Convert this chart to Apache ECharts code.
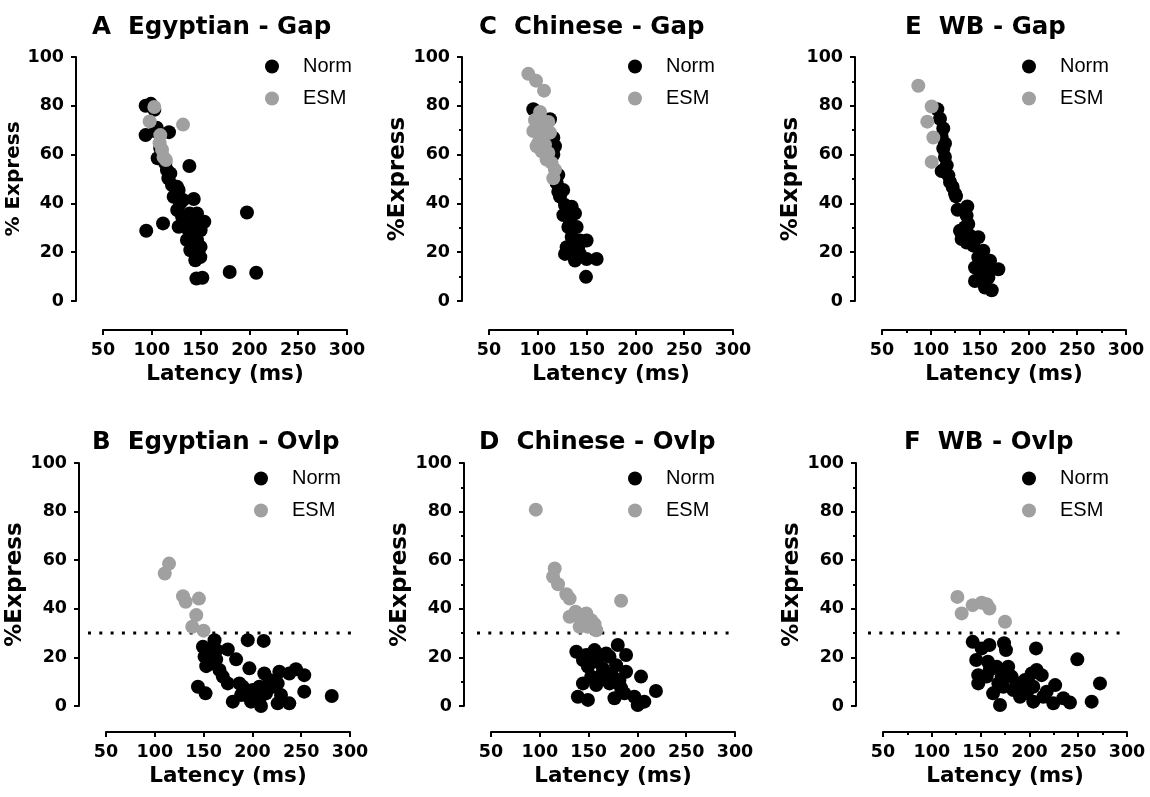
<!DOCTYPE html>
<html>
<head>
<meta charset="utf-8">
<script src="https://cdn.jsdelivr.net/npm/echarts@6/dist/echarts.min.js"></script>
<style>
  html, body { margin: 0; background: #fff; }
  #chart { width: 1150px; height: 797px; }
</style>
</head>
<body>
<div id="chart"></div>
<script>
// latency (ms), % express saccades
const egyGapNorm = [[93.7,80],[99,80.8],[102.6,78.4],[93.7,68],[105,71],[117.6,69.2],[103.6,69.5],[108.7,62.6],[106,58.5],[113.8,56.4],[115.5,53.7],[119,52.3],[117,50.3],[120.7,47.5],[125.8,46.8],[127.5,45.5],[122.4,42.7],[129,40],[132,41.4],[126,37.3],[138.5,55.3],[143,41.8],[131,34.5],[134.5,33.2],[127.5,30.4],[138.8,35.9],[146.3,35.9],[153.8,32.5],[146.3,31.8],[137.8,29],[143,27.7],[150,29],[136,25],[146.3,24.9],[141,22.9],[150,22.2],[139.5,20.8],[146.3,19.5],[149.7,18],[144.6,16.7],[145.7,9.2],[151.8,9.5],[179.8,11.9],[207,11.6],[197.5,36.3],[94.3,28.8],[111.5,31.8]];
const egyGapEsm = [[102.6,79.5],[97.8,73.6],[132,72.3],[108.7,68],[108,64.7],[110.5,62],[112,59],[114.5,57.8]];

const chnGapNorm = [[95.4,78.6],[112.5,74.5],[115.9,66.9],[117.6,63.4],[115.9,60],[121,51.7],[119.3,48.3],[121,44.8],[126,45.5],[122.7,42.8],[127.9,39.3],[134.7,38.6],[131.3,37.2],[138.1,35.9],[126.2,35.2],[133,33.1],[139.8,30.3],[131.3,30.3],[134.7,26.2],[143.2,24.8],[150,24.8],[134.7,22.8],[141.5,22.1],[129.6,22],[136.4,20],[143.2,19.3],[127.9,19.3],[138.1,16.6],[150,17.2],[160.3,17.2],[149.4,9.9]];
const chnGapEsm = [[90.3,93.1],[98.2,90.3],[106.4,86.2],[102.3,77.5],[97.1,74.2],[105.7,73.8],[110.8,73.4],[95.4,69.7],[102.3,69],[112.5,69],[100.5,64.8],[107.4,64.1],[98.8,63.4],[104,61.4],[110.8,60.7],[109,58],[114.2,56.6],[117.6,53.8],[115.9,50.3]];

const wbGapNorm = [[106.7,78.6],[109.4,74.7],[112.8,70.7],[111.1,67.3],[114.5,64.6],[112.8,62.5],[114.5,59],[116.3,55.6],[111.1,53.3],[118,51.5],[119.7,48.8],[122.4,46.7],[124.8,44],[125.8,42.9],[137.4,38.7],[127.5,37.4],[136.7,35],[138.4,31.6],[135,30.2],[129.9,28.8],[131.6,27.7],[140.2,26.8],[148.7,26.1],[131.6,25.4],[136.7,24],[143.6,22.7],[153.8,20.6],[148.7,17.9],[160.7,16.5],[153.8,15.1],[145.3,13.7],[169.2,13],[157.3,13],[159,9.6],[150.4,9.6],[145.3,8.2],[155.5,5.5],[162.4,4.4]];
const wbGapEsm = [[87.2,88.2],[100.9,79.7],[96.4,73.5],[102.6,67],[100.9,57]];

const egyOvlpNorm = [[161.2,27.1],[195.2,27.1],[211.6,26.8],[149.3,24.4],[174.8,23.3],[163.3,23],[156.4,23],[156.1,21.6],[151,20.3],[162.9,19.2],[183.3,19.2],[157.8,17.5],[152.7,16.4],[196.9,15.5],[244.6,15.1],[166.3,14.8],[227.6,14.1],[212.2,13.4],[237.8,13.4],[253.1,12.7],[169.7,12.1],[217.3,10.7],[174.8,9.3],[186.7,9.3],[225.9,9.3],[144.2,7.9],[190.1,7.9],[220.7,7.9],[207.1,7.9],[200.3,6.6],[253.1,5.9],[152,5.2],[214,5.2],[193.5,4.5],[229.3,4.5],[188.4,4.5],[281.3,4.1],[207.1,2.5],[179.9,1.8],[198.6,1.8],[237.8,1.1],[225.9,1.1],[208.8,0]];
const egyOvlpEsm = [[114.6,58.6],[110.2,54.5],[128.9,45.2],[131.6,42.9],[145.2,44.2],[142.5,37.4],[138.4,32.6],[150,31]];

const chnOvlpNorm = [[179.9,25.1],[137.4,22.3],[156.1,23],[168,21.6],[188.4,21],[147.6,21],[171.4,20.3],[144.2,18.9],[159.5,18.9],[154.4,18.2],[178.2,16.8],[149.3,16.2],[164.6,15.5],[188.4,14.1],[168,13.4],[203.7,12.1],[161.2,12.1],[174.8,12.1],[152.7,12.1],[181.6,10.7],[144.2,9.3],[171.4,9.3],[157.8,8.6],[183.3,7.3],[219,6.2],[186.7,5.2],[139,3.8],[196.9,3.8],[176.5,3.2],[149.3,2.5],[207.1,1.8],[200.3,0.4]];
const chnOvlpEsm = [[95.9,80.8],[115.3,56.6],[113.6,53.2],[118.7,50.1],[127.2,46],[130.6,44.2],[183.3,43.3],[136.7,38.8],[147.6,38.1],[130.6,36.7],[140.1,36.7],[152.7,35.3],[144.2,34.7],[156.1,33.7],[149.3,32.6],[140.8,32.6],[157.8,31.2]];

const wbOvlpNorm = [[141.9,26.4],[174,25.8],[159,25.1],[151.1,23.7],[206.8,23.7],[176,23],[249.1,19.2],[145.5,18.9],[157.5,18.2],[166.5,16.2],[178.3,16.2],[207.4,14.8],[159.2,14.8],[202.3,13.4],[176.6,13.4],[147.6,12.7],[212.6,12.7],[156.2,12.1],[171.6,12.1],[181.8,12.1],[195.5,10.7],[147.6,9.3],[187,9.3],[272.3,9.3],[168.2,9.3],[226.4,8.6],[173.3,7.9],[204,7.9],[192.1,6.6],[183.6,6.6],[217.7,5.9],[162.8,5.2],[197.2,5.2],[190.4,3.8],[214.3,3.8],[234.8,3.2],[204,1.8],[263.8,1.8],[241.6,1.4],[224.5,1.1],[169.9,0.4]];
const wbOvlpEsm = [[126.2,44.9],[130.6,38.1],[141.9,41.5],[151.1,42.5],[156.2,41.9],[159,40.1],[175,34.7]];

const seriesNames = ["Norm", "ESM"];
const seriesColors = ["#000000", "#a0a0a0"];
const thresholdPct = 30;

const boldFont = "DejaVu Sans";
const plainFont = "Liberation Sans";

// layout of the six panels
const panels = [
  { letter: "A", title: "Egyptian - Gap", yName: "% Express", yNameSize: 20, data: [egyGapNorm, egyGapEsm],
    left: 103, top: 57, height: 244, xOffset: 29, titleLeft: 92, titleTop: 15, legendLeft: 265, legendTop: 56, minorX: false, minorY: false, ref: null },
  { letter: "C", title: "Chinese - Gap", yName: "%Express", yNameSize: 23, data: [chnGapNorm, chnGapEsm],
    left: 489, top: 57, height: 244, xOffset: 29, titleLeft: 479, titleTop: 15, legendLeft: 628, legendTop: 56, minorX: false, minorY: true, ref: null },
  { letter: "E", title: "WB - Gap", yName: "%Express", yNameSize: 23, data: [wbGapNorm, wbGapEsm],
    left: 882, top: 57, height: 244, xOffset: 29, titleLeft: 905, titleTop: 15, legendLeft: 1022, legendTop: 56, minorX: true, minorY: true, ref: null },
  { letter: "B", title: "Egyptian - Ovlp", yName: "%Express", yNameSize: 23, data: [egyOvlpNorm, egyOvlpEsm],
    left: 106, top: 463, height: 243, xOffset: 26, titleLeft: 92, titleTop: 430, legendLeft: 254, legendTop: 468, minorX: false, minorY: false, ref: { left: 88, width: 263 } },
  { letter: "D", title: "Chinese - Ovlp", yName: "%Express", yNameSize: 23, data: [chnOvlpNorm, chnOvlpEsm],
    left: 491, top: 463, height: 243, xOffset: 26, titleLeft: 479, titleTop: 430, legendLeft: 628, legendTop: 468, minorX: false, minorY: true, ref: { left: 477, width: 258 } },
  { letter: "F", title: "WB - Ovlp", yName: "%Express", yNameSize: 23, data: [wbOvlpNorm, wbOvlpEsm],
    left: 883, top: 463, height: 243, xOffset: 26, titleLeft: 904, titleTop: 430, legendLeft: 1022, legendTop: 468, minorX: true, minorY: true, ref: { left: 868, width: 258 } },
];

const chart = echarts.init(document.getElementById("chart"), null, { renderer: "canvas" });

const axisLineStyle = { color: "#000", width: 2 };
const tickLabel = { color: "#000", fontFamily: boldFont, fontWeight: "bold", fontSize: 17.5 };

const grid = [];
const xAxis = [];
const yAxis = [];
const series = [];
const title = [];
const legend = [];

panels.forEach((p) => {
  const g = grid.length;
  grid.push({ left: p.left, top: p.top, width: 244, height: p.height });
  xAxis.push({
    gridIndex: g, type: "value", min: 50, max: 300, interval: 50, offset: p.xOffset,
    axisLine: { onZero: false, lineStyle: axisLineStyle },
    axisTick: { length: 5, lineStyle: axisLineStyle },
    minorTick: { show: p.minorX, splitNumber: 2, length: 3, lineStyle: axisLineStyle },
    splitLine: { show: false },
    axisLabel: { ...tickLabel, margin: 11 },
    name: "Latency (ms)", nameLocation: "middle", nameGap: 33,
    nameTextStyle: { color: "#000", fontFamily: boldFont, fontWeight: "bold", fontSize: 21.5 },
  });
  yAxis.push({
    gridIndex: g, type: "value", min: 0, max: 100, interval: 20, offset: 27,
    axisLine: { show: true, onZero: false, lineStyle: axisLineStyle },
    axisTick: { show: true, length: 5, lineStyle: axisLineStyle },
    minorTick: { show: p.minorY, splitNumber: 2, length: 3, lineStyle: axisLineStyle },
    splitLine: { show: false },
    axisLabel: { ...tickLabel, margin: 12 },
    name: p.yName, nameLocation: "middle", nameGap: 44,
    nameTextStyle: { color: "#000", fontFamily: boldFont, fontWeight: "bold", fontSize: p.yNameSize },
  });
  p.data.forEach((d, k) => {
    series.push({
      type: "scatter", name: seriesNames[k], xAxisIndex: g, yAxisIndex: g,
      data: d, symbolSize: 14, itemStyle: { color: seriesColors[k], opacity: 1 },
      silent: true,
    });
  });
  title.push({
    text: p.letter + "  " + p.title, left: p.titleLeft, top: p.titleTop, padding: 0,
    textStyle: { color: "#000", fontFamily: boldFont, fontWeight: "bold", fontSize: 24.5 },
  });
  legend.push({
    data: seriesNames, orient: "vertical", left: p.legendLeft, top: p.legendTop, padding: 0,
    icon: "circle", itemWidth: 14, itemHeight: 14, itemGap: 11, selectedMode: false,
    textStyle: { color: "#000", fontFamily: plainFont, fontSize: 20, lineHeight: 21, padding: [0, 0, 0, 19] },
  });

  if (p.ref) {
    // dotted threshold line, reaches a bit left of the x axis start
    const r = grid.length;
    grid.push({ left: p.ref.left, top: p.top, width: p.ref.width, height: p.height });
    xAxis.push({ gridIndex: r, type: "value", min: 0, max: 1, show: false });
    yAxis.push({ gridIndex: r, type: "value", min: 0, max: 100, show: false });
    series.push({
      type: "line", name: "threshold", xAxisIndex: r, yAxisIndex: r,
      data: [[0, thresholdPct], [1, thresholdPct]], symbol: "none", silent: true,
      lineStyle: { color: "#000", width: 3, type: [3, 8.3] }, z: 1,
    });
  }
});

chart.setOption({
  backgroundColor: "#fff",
  animation: false,
  grid, xAxis, yAxis, series, title, legend,
});
</script>
</body>
</html>
